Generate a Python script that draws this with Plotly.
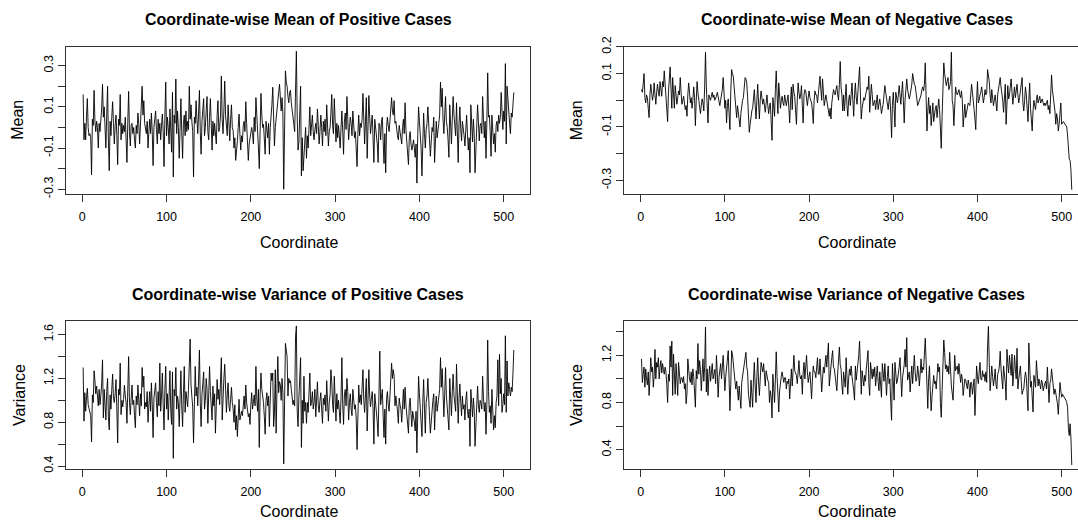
import plotly.graph_objects as go

# ---------------- data ----------------
pos_mean = [
    0.16, -0.06, 0.02, -0.06, 0.05, 0.14, 0.00, -0.04, -0.03, -0.05, -0.23, 0.04, 0.01, 0.18, 0.03, -0.02,
    0.03, 0.00, -0.10, 0.02, -0.02, 0.04, 0.09, 0.21, 0.05, 0.10, -0.02, -0.10, 0.06, 0.20, -0.07, -0.21,
    0.03, -0.04, 0.05, 0.125, 0.02, -0.08, 0.01, 0.06, -0.04, -0.18, 0.04, 0.01, 0.16, -0.06, 0.02, -0.03,
    0.01, -0.02, 0.05, -0.05, -0.17, 0.03, 0.175, -0.02, -0.09, 0.01, 0.02, -0.03, 0.00, -0.06, -0.10, 0.01,
    -0.03, 0.07, 0.02, -0.08, 0.04, 0.10, 0.20, 0.06, 0.13, 0.02, -0.01, -0.03, 0.03, -0.10, -0.02, 0.04,
    -0.03, 0.07, -0.02, -0.185, 0.00, 0.03, 0.08, -0.01, -0.08, 0.04, -0.03, 0.02, -0.06, 0.01, 0.065, -0.02,
    -0.19, 0.05, 0.22, -0.04, 0.05, 0.00, -0.08, 0.09, -0.03, -0.12, 0.17, -0.24, 0.06, 0.02, 0.235, -0.03,
    0.08, 0.00, -0.15, 0.06, 0.14, -0.02, -0.15, 0.02, 0.06, -0.04, 0.08, -0.02, 0.03, -0.01, 0.20, 0.04,
    0.11, 0.03, -0.02, -0.24, 0.05, 0.02, 0.13, 0.04, -0.03, 0.07, 0.18, -0.02, -0.13, 0.03, 0.09, 0.14,
    -0.04, 0.00, 0.08, 0.15, -0.02, -0.06, 0.05, 0.14, 0.02, -0.11, 0.03, -0.04, 0.02, -0.03, -0.08, 0.06,
    0.13, -0.02, 0.00, 0.06, 0.25, 0.04, -0.03, 0.08, 0.225, 0.06, 0.00, -0.04, 0.11, 0.03, -0.065, 0.04,
    0.11, 0.00, -0.015, -0.10, -0.05, -0.16, -0.12, -0.065, 0.00, 0.065, -0.03, -0.11, -0.04, -0.07, 0.01, 0.03,
    -0.02, 0.125, 0.02, -0.13, -0.16, -0.08, -0.055, -0.01, 0.00, -0.03, -0.08, 0.05, -0.02, 0.145, 0.03, 0.00,
    -0.10, -0.20, 0.04, 0.165, 0.06, 0.00, 0.015, -0.06, -0.13, 0.03, -0.02, -0.05, 0.02, -0.13, 0.00, 0.04,
    0.11, 0.195, 0.04, -0.09, 0.00, 0.055, 0.10, 0.12, 0.17, 0.21, 0.14, 0.08, 0.145, 0.07, -0.30, 0.06,
    0.275, 0.22, 0.20, 0.15, 0.12, 0.17, 0.18, 0.12, 0.08, 0.02, 0.015, -0.02, 0.30, 0.37, 0.05, -0.11,
    -0.07, 0.05, 0.20, -0.235, -0.05, -0.21, -0.12, -0.06, 0.00, -0.15, -0.04, -0.10, 0.02, 0.10, -0.04, 0.01,
    0.06, -0.02, -0.06, -0.01, 0.02, -0.03, 0.09, 0.01, -0.08, -0.02, 0.06, 0.00, -0.09, 0.03, -0.02, 0.04,
    -0.04, 0.11, 0.02, -0.09, -0.02, 0.00, 0.07, 0.16, 0.01, -0.03, 0.14, 0.04, -0.07, 0.02, -0.05, 0.01,
    -0.04, -0.10, 0.00, 0.08, -0.02, -0.13, 0.03, 0.07, -0.01, 0.15, 0.04, -0.06, 0.00, 0.05, 0.02, -0.04,
    0.08, 0.01, -0.05, -0.02, -0.08, -0.19, -0.03, 0.06, -0.04, 0.02, 0.00, 0.04, 0.165, 0.02, -0.08, 0.03,
    0.145, -0.15, 0.03, 0.155, 0.05, -0.03, 0.02, 0.06, -0.05, -0.17, 0.04, 0.00, -0.02, -0.08, -0.17, 0.02,
    0.01, -0.06, 0.03, 0.05, -0.07, -0.175, -0.03, -0.22, 0.00, 0.05, 0.01, -0.02, 0.03, 0.10, 0.145, 0.08,
    0.06, 0.13, 0.02, 0.03, -0.02, -0.04, -0.06, 0.01, -0.02, -0.05, -0.08, 0.00, 0.04, -0.03, 0.12, -0.01,
    -0.08, -0.12, -0.18, -0.05, -0.02, -0.08, -0.11, -0.09, -0.06, -0.10, -0.145, -0.08, -0.27, -0.04, 0.10, 0.03,
    -0.02, -0.10, -0.235, -0.01, 0.07, -0.03, -0.10, -0.01, 0.02, 0.10, -0.03, -0.06, -0.14, -0.09, 0.00, -0.02,
    0.05, -0.17, -0.04, 0.03, -0.05, 0.01, 0.02, 0.06, 0.22, 0.10, 0.19, 0.04, -0.03, 0.06, 0.15, 0.03,
    0.00, -0.06, -0.145, 0.11, -0.01, -0.08, 0.04, 0.15, 0.06, 0.02, -0.04, 0.12, -0.03, -0.17, 0.02, 0.10,
    -0.01, -0.065, 0.03, 0.00, -0.04, -0.09, 0.02, 0.06, -0.03, -0.11, -0.05, -0.22, 0.11, 0.00, -0.07, 0.04,
    -0.03, -0.22, -0.11, 0.02, 0.11, 0.03, -0.065, 0.01, 0.02, -0.03, 0.15, 0.04, -0.05, 0.03, -0.15, 0.02,
    0.265, 0.05, 0.06, -0.02, -0.14, 0.06, 0.00, -0.08, -0.03, -0.12, 0.01, 0.03, -0.02, 0.06, 0.02, 0.05,
    0.17, 0.04, -0.01, 0.08, 0.03, 0.31, -0.08, 0.20, 0.12, 0.08, 0.02, -0.03, 0.07, 0.05, 0.12, 0.17,
]

neg_mean = [
    0.04, 0.03, 0.06, 0.10, 0.01, -0.01, 0.02, 0.01, -0.03, -0.065, 0.02, 0.06, 0.03, 0.00, 0.02, 0.065,
    0.02, -0.015, 0.03, 0.06, 0.03, 0.015, 0.07, 0.04, 0.015, 0.07, 0.05, 0.11, 0.06, 0.02, -0.01, -0.08,
    0.03, 0.07, 0.125, 0.05, -0.03, 0.085, 0.02, -0.03, 0.055, 0.02, -0.015, 0.01, 0.035, 0.02, 0.085, 0.03,
    -0.015, 0.00, 0.015, -0.01, -0.035, -0.02, -0.06, 0.02, 0.065, 0.03, -0.01, 0.01, -0.03, 0.00, 0.05, 0.01,
    -0.095, 0.00, 0.07, 0.03, 0.00, -0.02, -0.05, -0.02, 0.005, -0.01, -0.04, 0.05, 0.18, 0.05, 0.00, -0.085,
    0.02, 0.01, 0.00, 0.015, 0.03, 0.01, 0.02, 0.00, 0.005, 0.015, 0.03, 0.01, -0.01, -0.02, 0.00, 0.015,
    0.04, 0.085, 0.02, -0.03, 0.00, -0.085, -0.02, 0.005, -0.05, -0.11, 0.03, 0.115, 0.10, 0.09, 0.05, 0.01,
    -0.03, -0.065, -0.02, -0.05, -0.085, -0.10, -0.05, -0.015, 0.00, 0.01, 0.05, 0.085, 0.08, 0.065, 0.01, -0.045,
    -0.12, -0.09, -0.06, -0.04, -0.03, 0.00, 0.04, -0.02, -0.07, 0.00, 0.06, -0.01, -0.07, 0.00, 0.035, 0.01,
    -0.015, 0.005, -0.02, -0.045, -0.01, 0.02, -0.02, -0.05, -0.02, -0.01, -0.08, -0.15, 0.01, -0.03, -0.06, 0.04,
    0.11, 0.02, -0.05, 0.065, 0.02, -0.03, 0.00, 0.015, -0.01, -0.02, 0.02, 0.00, -0.02, 0.00, 0.02, -0.03,
    -0.085, 0.00, 0.05, -0.035, 0.06, 0.03, 0.015, -0.04, -0.09, 0.00, 0.065, 0.03, 0.005, 0.02, 0.055, -0.02,
    -0.085, 0.02, 0.04, 0.035, 0.00, -0.02, 0.01, 0.035, 0.01, 0.00, -0.01, -0.04, -0.087, 0.00, 0.035, 0.02,
    0.02, -0.01, 0.03, 0.06, 0.09, 0.04, 0.00, 0.08, 0.03, -0.02, 0.00, 0.02, 0.00, -0.02, -0.04, -0.06,
    -0.03, -0.07, -0.01, 0.01, 0.04, 0.03, 0.02, 0.04, 0.055, 0.02, 0.00, 0.06, 0.145, 0.05, 0.02, -0.04,
    0.02, -0.04, 0.01, 0.06, -0.02, -0.06, 0.00, 0.02, -0.02, 0.01, 0.065, 0.00, -0.06, 0.02, 0.065, 0.01,
    -0.015, 0.03, 0.085, 0.125, 0.02, -0.07, -0.03, -0.01, 0.01, 0.00, 0.02, 0.035, 0.05, 0.04, 0.09, -0.045,
    0.01, 0.06, 0.02, -0.02, -0.01, 0.00, -0.035, 0.00, 0.02, -0.035, -0.01, 0.005, -0.02, -0.05, -0.03, -0.015,
    0.02, 0.055, 0.03, 0.01, -0.01, -0.035, 0.00, 0.015, -0.05, -0.14, -0.02, 0.03, -0.03, -0.10, 0.03, 0.01,
    -0.01, 0.02, 0.055, 0.02, -0.015, 0.03, 0.07, 0.00, -0.085, 0.00, 0.05, 0.08, 0.04, 0.015, 0.005, 0.02,
    0.035, 0.06, 0.10, 0.07, 0.06, 0.055, 0.03, 0.00, -0.02, -0.01, 0.00, 0.01, 0.02, 0.04, 0.05, 0.035,
    0.06, 0.14, 0.02, -0.115, -0.04, 0.01, -0.05, -0.02, -0.095, -0.04, -0.01, -0.08, -0.05, -0.03, -0.02, -0.065,
    -0.03, 0.005, -0.035, -0.10, -0.18, -0.06, 0.04, 0.14, 0.10, 0.07, 0.055, 0.07, 0.085, 0.04, 0.05, 0.07,
    0.18, 0.00, -0.02, -0.095, -0.01, 0.05, 0.03, 0.02, 0.03, 0.04, 0.02, 0.01, 0.035, 0.00, -0.10, -0.04,
    -0.015, -0.065, -0.04, -0.02, -0.01, -0.015, -0.02, 0.02, 0.06, 0.03, 0.005, -0.035, -0.07, -0.11, 0.00, 0.07,
    -0.01, 0.00, 0.02, 0.03, 0.05, 0.02, -0.01, 0.01, 0.04, 0.02, 0.03, 0.115, 0.09, 0.07, 0.02, -0.01,
    0.04, 0.01, -0.02, 0.00, 0.02, -0.01, -0.04, 0.02, 0.04, 0.06, 0.085, 0.05, 0.03, 0.00, -0.045, 0.01,
    0.06, -0.09, 0.00, 0.055, 0.005, 0.02, 0.05, 0.08, 0.03, -0.015, 0.02, 0.05, 0.01, 0.03, 0.06, 0.02,
    -0.01, 0.01, 0.035, 0.06, 0.085, -0.01, -0.04, 0.00, 0.05, 0.02, -0.015, -0.08, 0.00, 0.065, -0.03, -0.06,
    -0.115, -0.04, 0.00, -0.02, -0.035, 0.00, 0.02, -0.01, 0.00, 0.015, -0.01, 0.00, 0.005, -0.01, -0.02, -0.01,
    -0.02, -0.01, 0.00, -0.035, -0.02, -0.05, 0.02, 0.095, 0.04, 0.01, 0.005, -0.04, -0.09, -0.05, -0.07, -0.115,
    -0.09, -0.05, -0.01, -0.09, -0.085, -0.08, -0.085, -0.09, -0.095, -0.10, -0.13, -0.21, -0.22, -0.225, -0.26, -0.335,
]

pos_var = [
    1.30, 0.81, 1.07, 0.90, 1.02, 1.11, 0.96, 0.92, 0.90, 0.86, 0.62, 1.05, 0.98, 1.27, 1.18, 1.06,
    1.13, 1.00, 0.95, 1.10, 0.96, 1.04, 1.15, 1.37, 0.84, 1.10, 1.00, 0.82, 1.08, 1.20, 0.85, 0.73,
    1.05, 0.92, 1.10, 1.24, 1.02, 0.98, 1.06, 1.19, 0.92, 0.61, 1.10, 1.05, 1.34, 0.87, 1.00, 0.94,
    1.01, 1.14, 1.04, 0.98, 0.79, 1.06, 1.40, 0.98, 0.87, 1.02, 1.14, 0.96, 1.00, 0.86, 0.75, 1.04,
    0.96, 1.14, 1.00, 0.86, 1.06, 0.95, 1.30, 1.12, 1.22, 0.92, 0.98, 0.94, 1.08, 0.80, 0.96, 1.08,
    0.90, 1.16, 0.96, 0.66, 1.02, 1.10, 1.16, 0.98, 0.85, 1.08, 0.95, 1.34, 0.90, 1.04, 1.25, 0.96,
    0.73, 1.10, 1.31, 0.92, 1.06, 0.82, 0.98, 1.27, 0.90, 0.78, 1.26, 0.47, 1.10, 1.04, 1.30, 0.92,
    1.04, 0.98, 0.76, 1.20, 1.27, 0.95, 0.76, 1.06, 1.31, 0.89, 1.08, 1.01, 0.94, 1.10, 1.34, 1.56,
    1.14, 1.00, 0.94, 0.61, 1.20, 1.31, 1.04, 1.12, 0.95, 1.20, 1.46, 0.98, 0.76, 1.05, 1.13, 1.26,
    0.92, 1.00, 1.20, 1.10, 0.79, 1.02, 1.31, 1.08, 0.98, 0.82, 1.13, 0.95, 1.06, 0.70, 0.95, 1.19,
    1.01, 1.10, 0.96, 1.12, 1.39, 0.82, 1.10, 1.20, 1.33, 0.98, 0.89, 1.05, 1.16, 0.95, 0.90, 1.01,
    1.12, 0.98, 0.92, 0.80, 0.96, 0.73, 0.86, 0.67, 0.95, 1.01, 0.82, 0.88, 0.90, 0.86, 0.98, 1.04,
    0.92, 1.14, 0.98, 0.92, 0.85, 0.88, 0.78, 0.96, 1.07, 0.92, 0.98, 1.05, 0.95, 1.31, 1.02, 0.90,
    1.10, 0.57, 1.05, 1.25, 1.10, 1.04, 0.98, 0.85, 0.69, 1.00, 1.07, 0.95, 1.04, 0.76, 1.02, 1.25,
    1.18, 1.25, 0.76, 0.88, 1.28, 0.70, 1.10, 1.40, 1.07, 1.17, 1.14, 1.00, 1.20, 1.07, 0.42, 1.10,
    1.52, 1.46, 1.40, 1.04, 1.20, 1.16, 1.18, 1.10, 1.05, 0.96, 1.00, 0.95, 1.58, 1.68, 0.90, 0.76,
    1.02, 1.25, 1.39, 0.57, 1.00, 0.79, 1.22, 0.90, 0.98, 0.79, 0.98, 0.89, 1.02, 1.25, 0.95, 0.98,
    1.08, 0.92, 0.98, 1.10, 0.85, 1.04, 1.17, 0.95, 0.89, 1.00, 1.07, 0.92, 0.79, 1.02, 0.96, 1.05,
    0.90, 1.18, 0.95, 0.81, 0.98, 1.05, 1.28, 1.17, 0.96, 0.89, 1.22, 0.95, 0.81, 1.06, 0.92, 1.00,
    0.85, 0.79, 1.02, 1.39, 0.96, 0.78, 1.05, 1.10, 0.95, 1.20, 1.08, 0.82, 0.98, 1.06, 0.92, 0.86,
    1.10, 0.98, 0.92, 0.96, 0.84, 0.55, 0.95, 1.14, 0.98, 1.05, 0.96, 1.08, 1.28, 1.00, 0.89, 1.05,
    1.20, 0.72, 1.06, 1.28, 1.04, 0.94, 1.02, 1.08, 0.92, 0.60, 1.06, 0.98, 0.95, 0.80, 0.67, 1.02,
    1.45, 0.96, 1.04, 1.10, 0.85, 0.66, 0.92, 0.60, 1.01, 1.08, 0.96, 0.90, 1.04, 1.28, 1.34, 1.20,
    1.28, 1.22, 0.95, 1.04, 0.98, 0.90, 0.79, 1.02, 0.96, 0.92, 0.80, 1.04, 1.10, 0.92, 1.12, 0.96,
    0.87, 0.82, 0.70, 0.96, 1.02, 0.88, 0.76, 0.90, 0.86, 0.80, 0.72, 0.90, 0.52, 1.00, 1.22, 1.06,
    0.96, 0.80, 0.67, 0.98, 1.19, 0.92, 0.70, 0.98, 1.04, 1.20, 0.92, 0.85, 0.70, 0.82, 0.96, 1.00,
    1.06, 0.73, 0.94, 1.04, 0.90, 0.98, 1.02, 1.10, 1.39, 1.12, 1.29, 0.98, 0.85, 1.05, 1.30, 1.04,
    0.96, 0.85, 0.73, 1.20, 0.98, 0.86, 1.08, 1.24, 1.05, 0.98, 0.90, 1.33, 0.96, 0.79, 1.02, 1.15,
    0.98, 0.86, 1.04, 0.92, 0.96, 0.82, 1.00, 1.08, 0.90, 0.84, 0.92, 0.58, 1.10, 1.00, 0.85, 1.02,
    0.92, 0.58, 0.78, 0.98, 1.13, 0.96, 0.89, 1.00, 0.98, 0.92, 1.22, 1.02, 0.90, 0.98, 0.69, 0.96,
    1.55, 1.08, 0.89, 0.95, 0.79, 1.10, 0.96, 0.73, 0.86, 0.75, 0.98, 1.04, 1.37, 0.95, 1.42, 1.06,
    1.20, 0.89, 0.96, 1.06, 0.96, 1.59, 0.89, 1.36, 1.04, 1.16, 1.10, 1.04, 1.12, 1.08, 1.25, 1.46,
]

neg_var = [
    1.17, 0.97, 1.04, 1.10, 0.93, 1.085, 1.00, 0.95, 1.06, 0.86, 1.00, 1.18, 1.06, 1.10, 0.93, 1.02,
    1.25, 1.00, 1.14, 1.10, 1.18, 1.00, 1.10, 1.155, 1.05, 1.13, 1.08, 1.04, 1.10, 1.06, 0.95, 0.80,
    1.04, 0.98, 1.28, 1.10, 1.32, 0.86, 1.21, 1.02, 0.87, 1.13, 1.00, 0.86, 1.14, 1.05, 0.96, 1.01,
    1.01, 0.97, 1.02, 0.915, 0.96, 0.79, 0.88, 1.17, 1.03, 1.00, 0.97, 1.06, 0.95, 1.085, 1.02, 0.90,
    0.76, 1.07, 1.00, 1.30, 1.04, 1.155, 1.08, 0.90, 1.05, 1.17, 0.98, 1.10, 1.44, 0.89, 1.085, 0.86,
    1.02, 1.11, 0.98, 1.04, 1.13, 1.00, 1.04, 1.08, 0.96, 1.20, 1.05, 0.845, 1.01, 1.06, 1.13, 1.00,
    1.13, 1.20, 1.05, 0.90, 1.02, 1.11, 1.18, 1.24, 1.00, 0.73, 0.95, 1.24, 1.21, 1.10, 1.06, 0.98,
    0.915, 0.98, 0.88, 0.82, 0.94, 0.87, 0.75, 0.97, 1.02, 1.07, 1.15, 1.18, 1.225, 1.10, 1.06, 0.87,
    0.82, 0.76, 0.99, 0.90, 0.76, 1.00, 1.14, 0.94, 0.80, 1.02, 1.18, 0.98, 0.86, 1.00, 1.14, 1.10,
    1.06, 1.13, 1.02, 0.94, 1.07, 1.02, 0.99, 0.97, 0.80, 0.90, 0.85, 0.67, 1.04, 0.92, 0.80, 1.00,
    1.23, 1.02, 0.86, 0.72, 0.90, 1.00, 1.02, 1.06, 1.00, 0.97, 1.01, 1.01, 0.915, 0.98, 0.96, 1.00,
    0.83, 0.98, 1.085, 0.94, 1.05, 1.20, 1.07, 1.05, 1.03, 0.96, 1.10, 1.155, 1.03, 1.00, 1.03, 0.87,
    1.05, 1.14, 1.00, 1.08, 1.20, 1.06, 0.97, 1.02, 1.06, 0.95, 0.83, 1.00, 1.11, 1.06, 1.06, 1.01,
    1.08, 1.18, 1.04, 1.04, 1.17, 1.00, 0.89, 1.00, 1.10, 1.05, 1.15, 1.20, 1.10, 1.20, 1.305, 0.94,
    1.05, 1.14, 1.18, 1.24, 1.10, 1.085, 1.01, 0.96, 0.90, 1.05, 1.225, 1.27, 1.12, 1.085, 0.95, 0.87,
    1.06, 0.97, 0.93, 1.18, 0.915, 0.87, 1.00, 1.085, 1.03, 1.11, 1.02, 0.97, 0.90, 0.82, 1.11, 0.99,
    1.05, 1.13, 1.20, 1.32, 0.98, 0.87, 1.07, 0.99, 0.94, 1.03, 0.98, 1.085, 1.15, 1.24, 0.96, 0.86,
    1.14, 1.05, 1.00, 1.085, 1.02, 1.10, 0.94, 1.02, 1.11, 0.98, 0.90, 1.06, 0.95, 0.845, 1.13, 1.04,
    0.98, 1.13, 1.00, 0.86, 1.02, 1.11, 0.96, 1.00, 0.80, 0.65, 1.13, 0.95, 0.82, 1.14, 1.00, 0.96,
    0.99, 1.085, 1.10, 1.18, 0.915, 0.85, 1.01, 1.07, 1.12, 1.25, 1.10, 1.35, 0.99, 1.02, 1.06, 0.89,
    1.00, 1.11, 0.96, 1.05, 1.20, 1.06, 0.98, 1.01, 1.11, 1.04, 0.94, 1.05, 1.17, 1.05, 1.10, 1.08,
    1.20, 1.345, 1.155, 0.96, 0.75, 1.00, 1.11, 0.90, 0.73, 0.85, 0.96, 1.03, 0.96, 0.98, 0.915, 1.02,
    1.13, 1.06, 1.10, 0.80, 0.675, 0.90, 1.155, 1.33, 1.225, 1.085, 1.12, 1.06, 1.11, 1.04, 1.225, 1.05,
    0.94, 0.88, 0.82, 1.00, 1.20, 1.07, 1.10, 1.11, 1.04, 1.13, 1.05, 0.97, 1.04, 1.00, 0.86, 0.95,
    1.00, 0.99, 0.93, 0.915, 0.99, 0.95, 0.845, 0.97, 0.97, 0.87, 0.94, 1.00, 0.69, 0.95, 1.11, 1.02,
    0.96, 1.05, 1.14, 1.00, 0.99, 1.07, 1.02, 1.04, 0.98, 1.06, 0.97, 1.28, 1.445, 1.14, 0.90, 1.00,
    1.11, 1.02, 0.94, 1.00, 1.085, 0.95, 0.915, 1.04, 1.06, 1.11, 1.235, 1.085, 0.95, 0.915, 1.11, 1.05,
    0.97, 0.82, 1.25, 1.13, 1.05, 1.20, 1.10, 1.03, 1.21, 0.94, 1.05, 1.20, 1.085, 1.00, 1.26, 0.915,
    1.00, 1.07, 1.11, 0.98, 0.87, 0.90, 0.915, 1.00, 1.06, 1.01, 0.90, 0.73, 1.305, 1.06, 0.93, 0.98,
    0.80, 0.72, 1.03, 0.96, 0.93, 1.155, 1.05, 0.94, 1.00, 0.96, 0.915, 0.99, 0.97, 0.90, 0.94, 0.96,
    0.98, 0.915, 1.10, 0.96, 0.80, 0.96, 0.99, 1.085, 0.96, 0.94, 0.87, 0.915, 0.88, 0.845, 0.79, 0.70,
    0.83, 0.97, 0.90, 0.845, 0.87, 0.86, 0.845, 0.83, 0.82, 0.80, 0.76, 0.58, 0.52, 0.62, 0.50, 0.27,
]

x_ticks = [0, 100, 200, 300, 400, 500]
x_tick_labels = ["0", "100", "200", "300", "400", "500"]
pm_ticks = [-0.3, -0.2, -0.1, 0.0, 0.1, 0.2, 0.3]
pm_labels = ["-0.3", "", "-0.1", "", "0.1", "", "0.3"]
nm_ticks = [-0.3, -0.2, -0.1, 0.0, 0.1, 0.2]
nm_labels = ["-0.3", "", "-0.1", "", "0.1", "0.2"]
pv_ticks = [0.4, 0.6, 0.8, 1.0, 1.2, 1.4, 1.6]
pv_labels = ["0.4", "", "0.8", "", "1.2", "", "1.6"]
nv_ticks = [0.4, 0.6, 0.8, 1.0, 1.2, 1.4]
nv_labels = ["0.4", "", "0.8", "", "1.2", ""]

titles = [
    "Coordinate-wise Mean of Positive Cases",
    "Coordinate-wise Mean of Negative Cases",
    "Coordinate-wise Variance of Positive Cases",
    "Coordinate-wise Variance of Negative Cases",
]
x_title = "Coordinate"
y_titles = ["Mean", "Mean", "Variance", "Variance"]

# ---------------- layout geometry ----------------
W, H = 1078, 523
FONT = "Liberation Sans, Arial, Helvetica, sans-serif"
INK = "#000000"
AX = "#333333"


def px_x(p):
    return p / W


def px_y(p):
    return 1 - p / H


left_dom = [px_x(65.9), px_x(530.3)]
right_dom = [px_x(624.3), 1.0]
top_dom = [px_y(194.0), px_y(46.7)]
bot_dom = [px_y(469.3), px_y(321.0)]

panels = [
    dict(y=pos_mean, xd=left_dom, yd=top_dom, xr=[-19.44, 531.56], yr=[-0.323, 0.392],
         yt=pm_ticks, yl=pm_labels, mirror_y=True),
    dict(y=neg_mean, xd=right_dom, yd=top_dom, xr=[-19.44, 519.4], yr=[-0.351, 0.2006],
         yt=nm_ticks, yl=nm_labels, mirror_y=False),
    dict(y=pos_var, xd=left_dom, yd=bot_dom, xr=[-19.44, 531.56], yr=[0.370, 1.725],
         yt=pv_ticks, yl=pv_labels, mirror_y=True),
    dict(y=neg_var, xd=right_dom, yd=bot_dom, xr=[-19.44, 519.4], yr=[0.234, 1.491],
         yt=nv_ticks, yl=nv_labels, mirror_y=False),
]

fig = go.Figure()
layout = dict(
    template="none",
    width=W, height=H, autosize=False,
    margin=dict(l=0, r=0, t=0, b=0, pad=0, autoexpand=False),
    paper_bgcolor="white", plot_bgcolor="white",
    showlegend=False,
    font=dict(family=FONT, color=INK, size=12),
)

for k, p in enumerate(panels):
    n = k + 1
    xs = "" if n == 1 else str(n)
    coord = list(range(1, len(p["y"]) + 1))
    fig.add_trace(go.Scatter(
        x=coord, y=p["y"], mode="lines",
        line=dict(color=INK, width=0.9),
        xaxis="x" + xs, yaxis="y" + xs, hoverinfo="skip",
    ))
    layout["xaxis" + xs] = dict(
        domain=p["xd"], anchor="y" + xs, range=p["xr"], automargin=False,
        showline=True, linecolor=AX, linewidth=1, mirror=True,
        ticks="outside", ticklen=7, tickcolor=AX, tickwidth=1,
        tickmode="array", tickvals=x_ticks, ticktext=x_tick_labels,
        showgrid=False, zeroline=False,
        tickfont=dict(family=FONT, size=12.5, color=INK),
        ticklabelstandoff=4,
    )
    layout["yaxis" + xs] = dict(
        domain=p["yd"], anchor="x" + xs, range=p["yr"], automargin=False,
        showline=True, linecolor=AX, linewidth=1, mirror=p["mirror_y"],
        ticks="outside", ticklen=7, tickcolor=AX, tickwidth=1,
        tickmode="array", tickvals=p["yt"], ticktext=p["yl"],
        tickangle=-90,
        showgrid=False, zeroline=False,
        tickfont=dict(family=FONT, size=12.5, color=INK),
    )

fig.update_layout(**layout)

# titles and axis titles (R-style placement)
title_pos = [(298.2, 19.0), (856.5, 19.0), (298.2, 294.7), (856.5, 294.7)]
xt_pos = [(298.5, 242.3), (856.5, 242.3), (298.5, 511.0), (856.5, 511.0)]
yt_pos = [(17.5, 120.3), (576.0, 120.3), (19.0, 395.0), (576.0, 395.0)]
for k in range(4):
    tx, ty = title_pos[k]
    fig.add_annotation(x=px_x(tx), y=px_y(ty), xref="paper", yref="paper",
                       text="<b>" + titles[k] + "</b>", showarrow=False,
                       xanchor="center", yanchor="middle",
                       font=dict(family=FONT, size=16, color=INK))
    ax_, ay_ = xt_pos[k]
    fig.add_annotation(x=px_x(ax_), y=px_y(ay_), xref="paper", yref="paper",
                       text=x_title, showarrow=False,
                       xanchor="center", yanchor="middle",
                       font=dict(family=FONT, size=16, color=INK))
    bx, by = yt_pos[k]
    fig.add_annotation(x=px_x(bx), y=px_y(by), xref="paper", yref="paper",
                       text=y_titles[k], showarrow=False, textangle=-90,
                       xanchor="center", yanchor="middle",
                       font=dict(family=FONT, size=16, color=INK))

# Remove the default page margin synchronously (right after the plot call),
# so the 1078x523 figure fills the window exactly without scrollbars.
reset_page = (
    "}); document.documentElement.style.margin='0';"
    " document.body.style.margin='0'; document.body.style.padding='0';"
    " document.documentElement.style.overflow='hidden';"
    " document.body.style.overflow='hidden';"
    " Promise.resolve().then(function(){"
)

fig.write_html("out.html", config={"displayModeBar": False},
               post_script=reset_page)
